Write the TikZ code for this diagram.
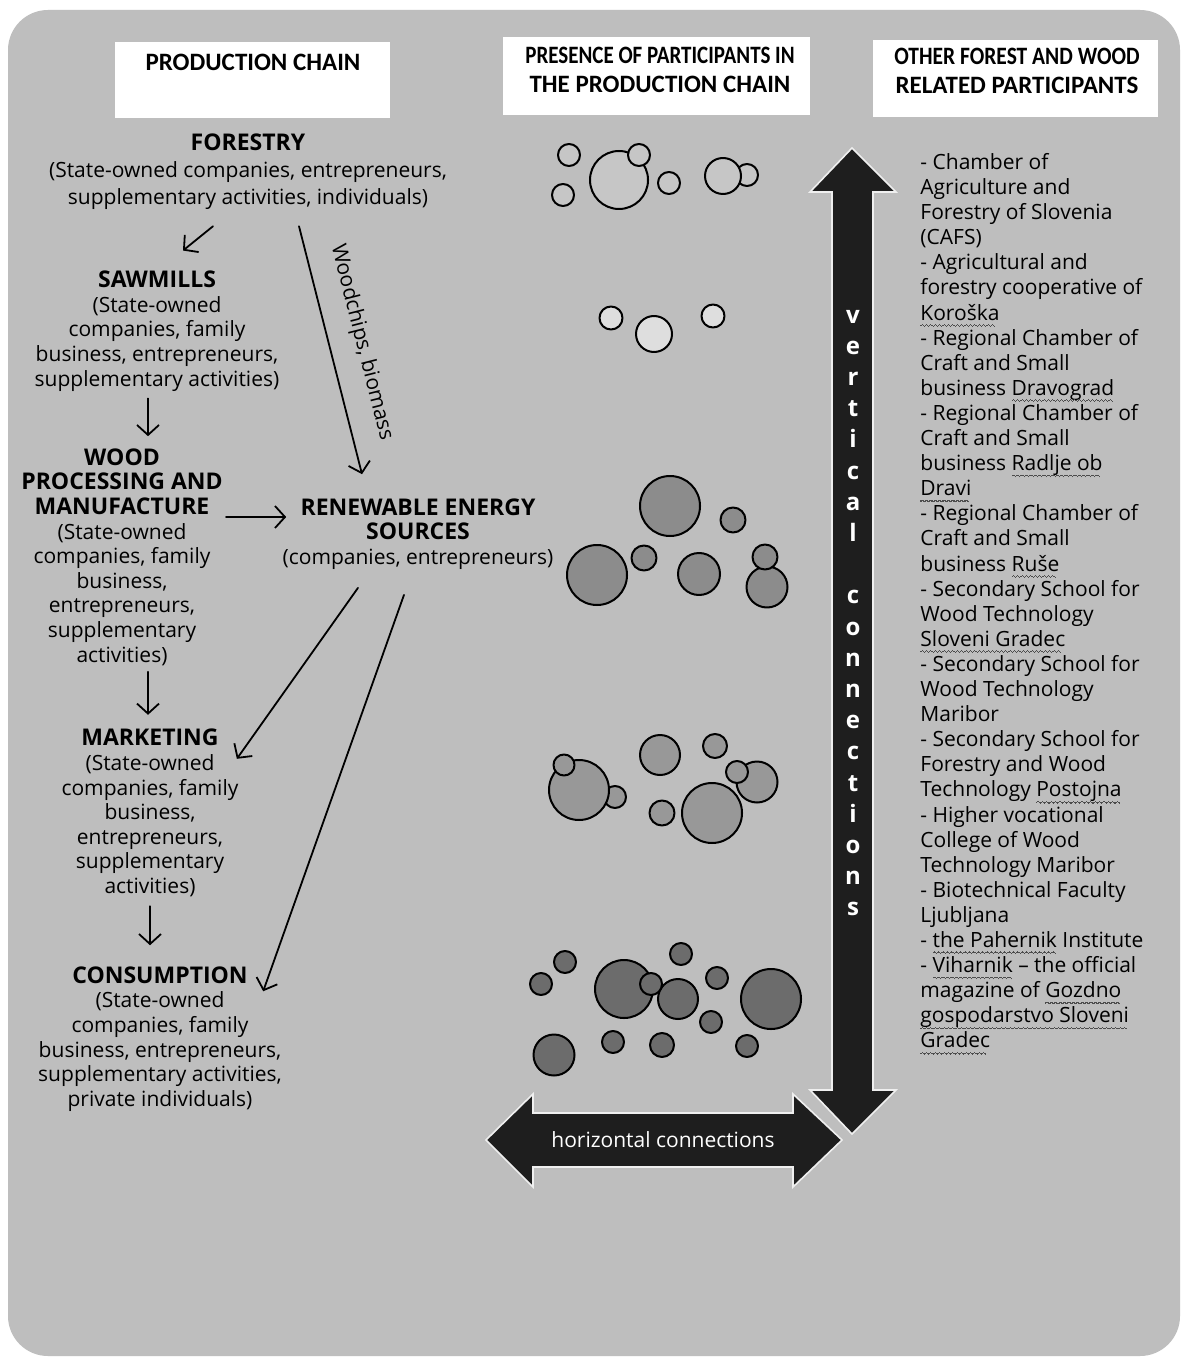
\documentclass[tikz,border=0pt]{standalone}
\usepackage{fontspec}
\setmainfont{Open Sans}
\newfontfamily\headfont{Carlito}
\usetikzlibrary{arrows.meta}

\definecolor{bggray}{RGB}{190,190,190}
\definecolor{arrowblack}{RGB}{30,30,30}
\definecolor{bubA}{RGB}{198,198,198}
\definecolor{bubB}{RGB}{222,222,222}
\definecolor{bubC}{RGB}{140,140,140}
\definecolor{bubD}{RGB}{152,152,152}
\definecolor{bubE}{RGB}{108,108,108}

% stage title inside a chain node
\newcommand*{\stage}[1]{{\bfseries\fontsize{11.5}{12.5}\selectfont #1}}
% wavy spell-check underline
\newsavebox{\squigbox}
\newcommand*{\squigwave}{\hbox{\rule[-2.9pt]{0.55pt}{0.55pt}\rule[-2.5pt]{0.55pt}{0.55pt}\rule[-2.9pt]{0.55pt}{0.55pt}\rule[-3.3pt]{0.55pt}{0.55pt}}}
\newcommand*{\squig}[1]{\sbox{\squigbox}{#1}\rlap{\usebox{\squigbox}}{\color{black!70}\hbox to\wd\squigbox{\leaders\squigwave\hfill}}}

\tikzset{
  chain/.style={align=center, inner sep=0pt, font=\fontsize{10.5}{12.3}\selectfont},
  flow/.style={-{Straight Barb[length=5pt,width=11pt]}, line width=0.9pt},
  hdrbox/.style={fill=white, inner sep=0pt},
  hdrtxt/.style={align=center, inner sep=0pt, font=\headfont\bfseries\fontsize{12.5}{14.5}\selectfont},
  bubble/.style={draw=black, line width=1pt},
  bigarrow/.style={fill=arrowblack, draw=white!75!bggray, line width=0.8pt, line join=miter},
}

\begin{document}
\begin{tikzpicture}[x=0.5pt, y=-0.5pt, line cap=round, line join=round]
\useasboundingbox (0,0) rectangle (1182,1358);
% Background
\fill[white] (0,0) rectangle (1182,1358);
\fill[bggray, rounded corners=20pt] (8,10) rectangle (1180,1356);

% Headers
\node (hdrchain) [hdrbox, minimum width=137.5pt, minimum height=38pt] at (252.5,80) {};
\node (hdrchaintxt) [hdrtxt] at (253,62) {PRODUCTION CHAIN};
\node (hdrpres) [hdrbox, minimum width=153.5pt, minimum height=39pt] at (656.5,76) {};
\node (hdrprestxt) [hdrtxt] at (660,69.5) {\scalebox{0.84}[1]{PRESENCE OF PARTICIPANTS IN}\\THE PRODUCTION CHAIN};
\node (hdrother) [hdrbox, minimum width=142.5pt, minimum height=38.5pt] at (1015.5,78.5) {};
\node (hdrothertxt) [hdrtxt] at (1017,71) {\scalebox{0.86}[1]{OTHER FOREST AND WOOD}\\RELATED PARTICIPANTS};

% Production chain
\node (forestry) [chain, font=\fontsize{10.5}{13.5}\selectfont] at (248,172)
  {\stage{FORESTRY}\\(State-owned companies, entrepreneurs,\\supplementary activities, individuals)};
\node (sawmills) [chain] at (157,331)
  {\stage{SAWMILLS}\\(State-owned\\companies, family\\business, entrepreneurs,\\supplementary activities)};
\node (woodproc) [chain] at (122,557)
  {\stage{WOOD}\\\stage{PROCESSING AND}\\\stage{MANUFACTURE}\\(State-owned\\companies, family\\business,\\entrepreneurs,\\supplementary\\activities)};
\node (marketing) [chain] at (150,813)
  {\stage{MARKETING}\\(State-owned\\companies, family\\business,\\entrepreneurs,\\supplementary\\activities)};
\node (consumption) [chain] at (160,1039)
  {\stage{CONSUMPTION}\\(State-owned\\companies, family\\business, entrepreneurs,\\supplementary activities,\\private individuals)};
\node (renewable) [chain] at (418,534)
  {\stage{RENEWABLE ENERGY}\\\stage{SOURCES}\\(companies, entrepreneurs)};

% Flows
\draw[flow] ([shift={(-35,16)}]forestry.south) -- ([shift={(26,-20)}]sawmills.north);
\draw[flow] ([shift={(-9,7)}]sawmills.south) -- ([shift={(26,-12)}]woodproc.north);
\draw[flow] ([shift={(26,6)}]woodproc.south) -- ([shift={(-2,-14)}]marketing.north);
\draw[flow] ([shift={(0,9)}]marketing.south) -- ([shift={(-10,-21)}]consumption.north);
\draw[flow] ([shift={(3,-40)}]woodproc.east) -- ([shift={(4,-17)}]renewable.west);
\draw[flow] ([shift={(51,16)}]forestry.south) -- node[sloped, above=7pt, font=\fontsize{10.5}{12}\selectfont] {Woodchips, biomass} ([shift={(-56,-24)}]renewable.north);
\draw[flow] ([shift={(-60,18)}]renewable.south) -- ([shift={(-2,30)}]marketing.north east);
\draw[flow] ([shift={(-14,25)}]renewable.south) -- ([shift={(-19,25)}]consumption.north east);

% Presence of participants
\foreach \cx/\cy/\cr in {569/155/11, 563/195/11, 619/180/29, 639/155/11, 669/183/11, 747/175/11, 723/176/18}
  \filldraw[bubble, fill=bubA] (\cx,\cy) circle[radius=\cr];
\foreach \cx/\cy/\cr in {611/318/11.5, 654/334/18, 713/316/11.5}
  \filldraw[bubble, fill=bubB] (\cx,\cy) circle[radius=\cr];
\foreach \cx/\cy/\cr in {670/506/30, 733/520/12.5, 597/575/30, 644/558/12.5, 699/574/21, 767/587/20.5, 765/557/12.5}
  \filldraw[bubble, fill=bubC] (\cx,\cy) circle[radius=\cr];
\foreach \cx/\cy/\cr in {615/797/11, 579/790/30, 564/765/10.5, 660/755/20, 715/746/12, 757/782/20.5, 737/772/11, 712/813/30, 662/813/12.5}
  \filldraw[bubble, fill=bubD] (\cx,\cy) circle[radius=\cr];
\foreach \cx/\cy/\cr in {565/962/11, 541/984/11, 624/989/29, 678/999/20, 651/984/11, 681/954/11, 717/978/11, 771/999/30, 711/1022/11, 613/1042/11, 662/1045/12, 747/1046/11, 554/1055/20.5}
  \filldraw[bubble, fill=bubE] (\cx,\cy) circle[radius=\cr];

% Connections
\filldraw[bigarrow] (852,148) -- (896,192) -- (873,192) -- (873,1090) -- (896,1090) -- (852,1134)
  -- (810,1090) -- (832,1090) -- (832,192) -- (810,192) -- cycle;
\node (vtext) [align=center, inner sep=0pt, text=white, font=\bfseries\fontsize{12}{15.6}\selectfont] at (853,613)
  {v\\e\\r\\t\\i\\c\\a\\l\\[15.6pt]c\\o\\n\\n\\e\\c\\t\\i\\o\\n\\s};
\filldraw[bigarrow] (486,1140) -- (533,1094) -- (533,1113) -- (793,1113) -- (793,1094) -- (842,1140)
  -- (793,1187) -- (793,1167) -- (533,1167) -- (533,1187) -- cycle;
\node (htext) [inner sep=0pt, text=white, font=\fontsize{10.5}{12}\selectfont] at (663,1140) {horizontal connections};

% Other participants
\node (others) [align=left, inner sep=0pt, anchor=west, font=\fontsize{10.5}{12.55}\selectfont] at (920,604)
  {- Chamber of\\Agriculture and\\Forestry of Slovenia\\(CAFS)\\- Agricultural and\\forestry cooperative of\\\squig{Koroška}\\- Regional Chamber of\\Craft and Small\\business \squig{Dravograd}\\- Regional Chamber of\\Craft and Small\\business \squig{Radlje ob}\\\squig{Dravi}\\- Regional Chamber of\\Craft and Small\\business \squig{Ruše}\\- Secondary School for\\Wood Technology\\\squig{Sloveni Gradec}\\- Secondary School for\\Wood Technology\\Maribor\\- Secondary School for\\Forestry and Wood\\Technology \squig{Postojna}\\- Higher vocational\\College of Wood\\Technology Maribor\\- Biotechnical Faculty\\Ljubljana\\- \squig{the Pahernik} Institute\\- \squig{Viharnik} – the official\\magazine of \squig{Gozdno}\\\squig{gospodarstvo Sloveni}\\\squig{Gradec}};
\end{tikzpicture}
\end{document}
